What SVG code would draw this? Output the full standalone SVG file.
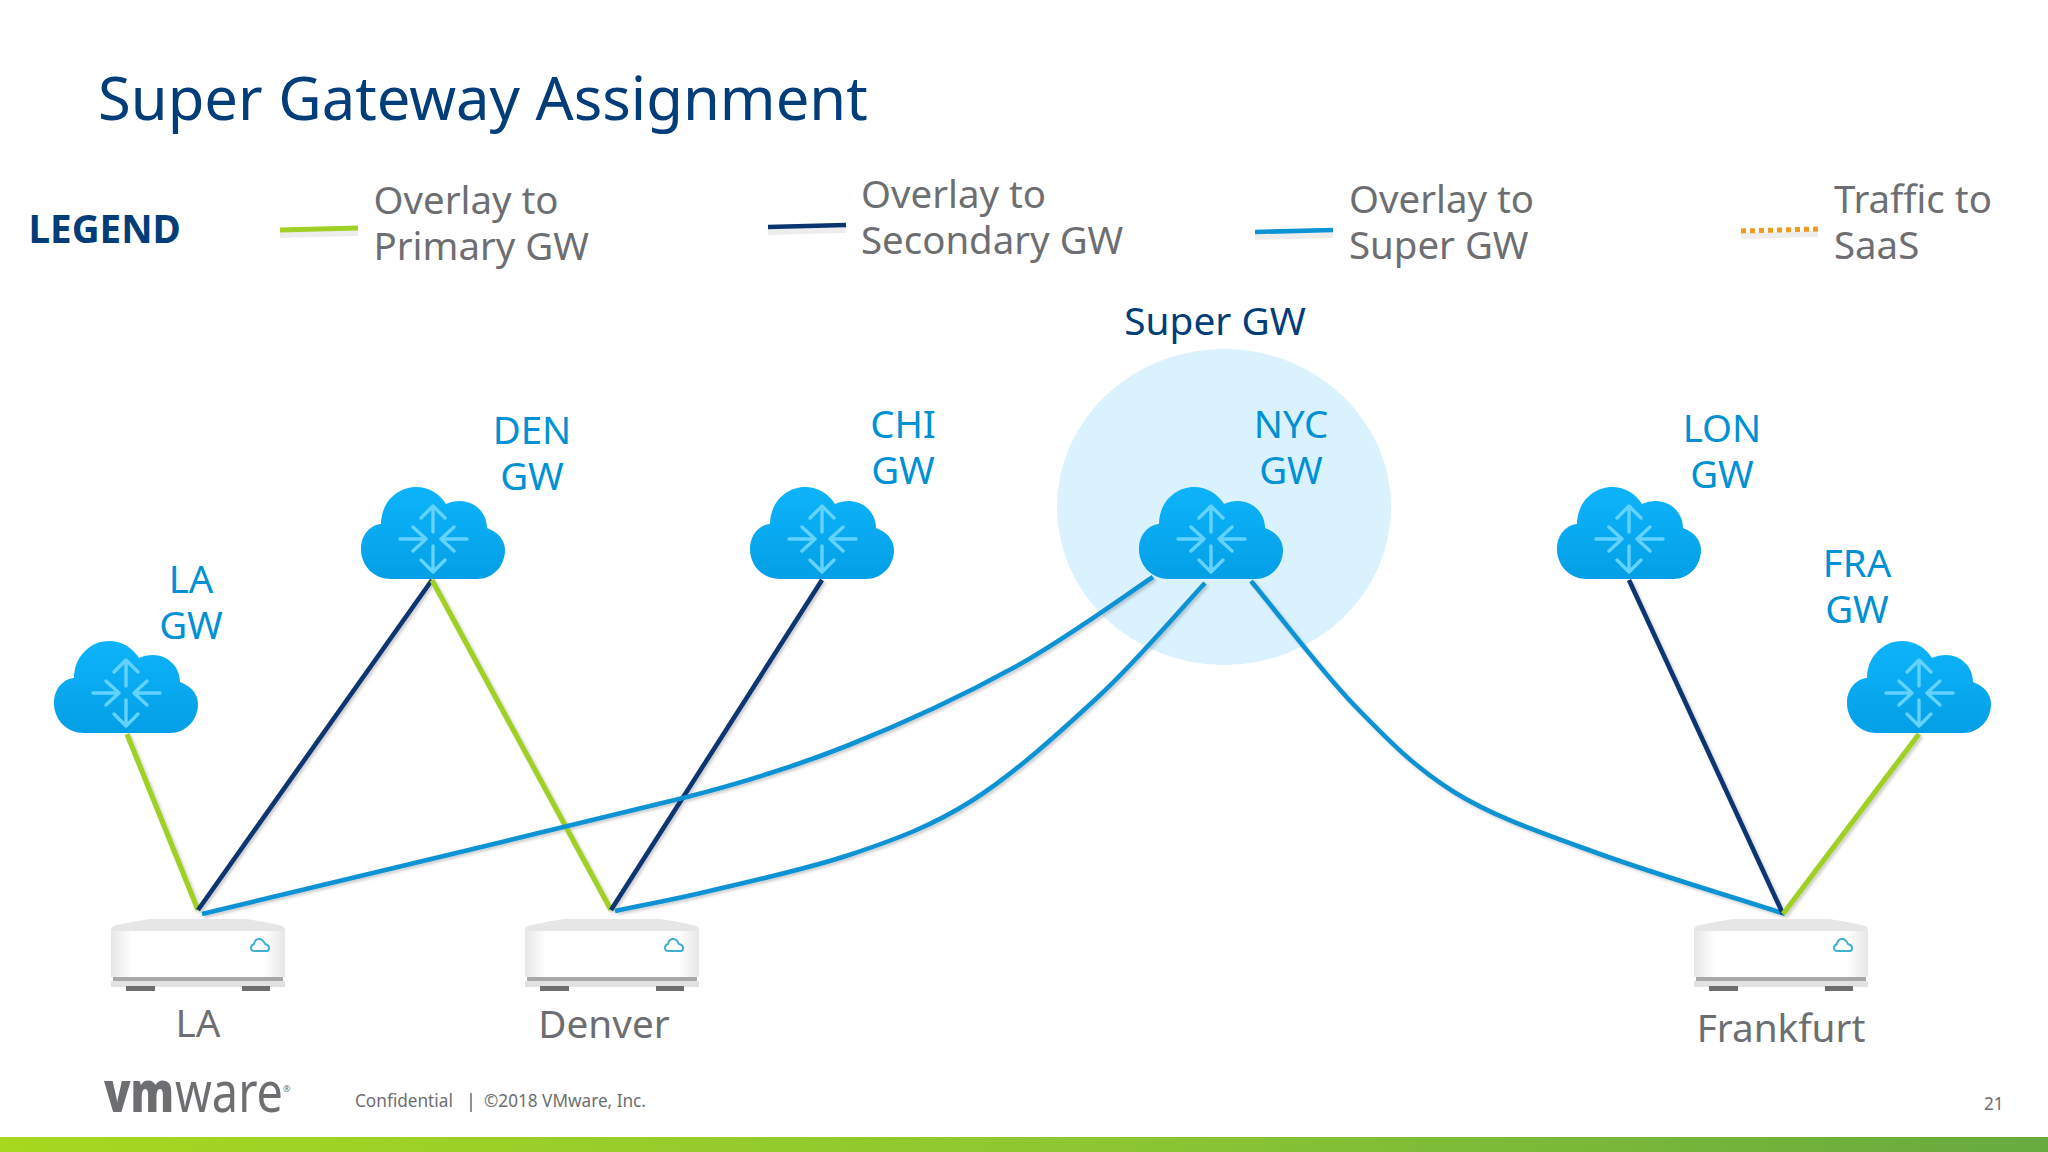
<svg xmlns="http://www.w3.org/2000/svg" width="2048" height="1152" viewBox="0 0 2048 1152">
<style>
text{font-family:"Noto Sans","Open Sans","Liberation Sans",sans-serif}
.t{font-size:38.4px;fill:#6d6e71}
.g{font-size:38.4px;fill:#0091d5;text-anchor:middle}
.n{font-size:38.7px;fill:#6d6e71;text-anchor:middle}
.c{fill:none;stroke-width:4.6px}
.s{fill:none;stroke:#000;stroke-opacity:.07;stroke-width:6px}
.green{stroke:#a0d026;stroke-width:5.2px}.navy{stroke:#0a3470}.blue{stroke:#0b93d3}
.arr{fill:none;stroke:#62d2ff;stroke-width:3.4;stroke-linecap:round;stroke-linejoin:round}
.foot{font-size:17.2px;fill:#6d6e71}
</style>
<defs>
<filter id="sh" x="-5%" y="-5%" width="110%" height="110%"><feDropShadow dx="2" dy="2" stdDeviation="1.5" flood-color="#000" flood-opacity=".2"/></filter>
<linearGradient id="cg" x1="0" y1="0" x2="0" y2="1"><stop offset="0" stop-color="#0db4fb"/><stop offset="1" stop-color="#049fe6"/></linearGradient>
<linearGradient id="bar"><stop offset="0" stop-color="#a6d81f"/><stop offset="0.54" stop-color="#8cc632"/><stop offset="1" stop-color="#67aa3f"/></linearGradient>
<linearGradient id="rb" x1="0" y1="0" x2="1" y2="0"><stop offset="0" stop-color="#e6e6e6"/><stop offset="0.12" stop-color="#fff"/><stop offset="0.88" stop-color="#fff"/><stop offset="1" stop-color="#e6e6e6"/></linearGradient>
<symbol id="cloud" viewBox="0 0 144 92" width="144" height="92" overflow="visible">
<path fill="url(#cg)" d="M30 92C13 92 0 79 0 62C0 48 9 38 20 37C20 16 36 0 55 0C68 0 79 7 85 17C89 15 94 14 99 14C114 14 126 26 126 41C137 45 144 53 144 63C144 79 132 92 116 92Z"/>
<g class="arr"><path d="M72 45V19M60 31L72 19L84 31M72 59V85M60 73L72 85L84 73M39 52H65M52 40L65 52L52 64M106 52H80M93 40L80 52L93 64"/></g>
</symbol>
<symbol id="router" viewBox="0 0 174 72" width="174" height="72" overflow="visible">
<path fill="#e6e6e6" d="M0 14V11Q0 7 6 6Q25 2 39 0H135Q150 2 168 6Q174 7 174 11V14Z"/>
<path fill="url(#rb)" d="M0 12H174V58H0Z"/>
<path fill="#a8a8a8" d="M2 58H172V62H2Z"/>
<path fill="#e2e2e2" d="M0 62H174V68H0Z"/>
<path fill="#6e6e6e" d="M15 67H44V72H15ZM131 67H159V72H131Z"/>
<path fill="none" stroke="#3fb0cf" stroke-width="2" d="M144 32H156Q158 32 158 29Q158 26 154 25Q152 20 148 20Q144 20 143 25Q140 26 140 29Q140 32 144 32Z"/>
</symbol>
</defs>
<rect width="2048" height="1152" fill="#fff"/>
<g id="bg"><ellipse cx="1224" cy="507" rx="167" ry="158" fill="#d9f2fe"/></g>
<text x="98" y="120" font-size="59.7" fill="#003d79">Super Gateway Assignment</text>
<g id="legend">
<text x="28.5" y="243" font-size="38.6" font-weight="700" fill="#003d79">LEGEND</text>
<path class="s" d="M280 235L358 233"/><path class="c green" d="M280 230L358 228"/>
<text class="t" x="373.5" y="214">Overlay to</text><text class="t" x="373.5" y="260">Primary GW</text>
<path class="s" d="M768 232L846 230"/><path class="c navy" d="M768 227L846 225"/>
<text class="t" x="861" y="208">Overlay to</text><text class="t" x="861" y="254">Secondary GW</text>
<path class="s" d="M1255 237L1333 235"/><path class="c blue" d="M1255 232L1333 230"/>
<text class="t" x="1349" y="213">Overlay to</text><text class="t" x="1349" y="259">Super GW</text>
<path class="s" d="M1741 236L1818 234"/><path d="M1741 231L1818 229" fill="none" stroke="#f09a20" stroke-width="5" stroke-dasharray="5 4"/>
<text class="t" x="1834" y="213">Traffic to</text><text class="t" x="1834" y="259">SaaS</text>
</g>
<g id="connectors" filter="url(#sh)">
<path class="c green" d="M127 734L198 910"/>
<path class="c navy" d="M432 580L198 910"/>
<path class="c green" d="M432 580L611 910"/>
<path class="c navy" d="M822 580L611 910"/>
<path class="c blue" d="M1153 577C1130 592 1066 639 1015 667C964 695 904 723 849 745C794 767 738 784 683 798C583 822 302 891 202 914"/>
<path class="c blue" d="M1205 583C1187 602 1137 661 1098 697C1059 733 1014 774 973 800C932 826 897 839 849 855C801 871 722 888 683 897C660 902 637 906 615 911"/>
<path class="c blue" d="M1251 581C1285 622 1320 670 1354 705C1388 740 1414 767 1454 792C1494 817 1542 833 1597 853C1652 873 1723 894 1785 914"/>
<path class="c navy" d="M1629 580L1783 914"/>
<path class="c green" d="M1919 734L1783 914"/>
</g>
<g id="la-gw"><use href="#cloud" x="54" y="641"/><text class="g" x="191" y="593">LA</text><text class="g" x="191" y="639">GW</text></g>
<g id="den-gw"><use href="#cloud" x="361" y="487"/><text class="g" x="532" y="444">DEN</text><text class="g" x="532" y="490">GW</text></g>
<g id="chi-gw"><use href="#cloud" x="750" y="487"/><text class="g" x="903" y="438">CHI</text><text class="g" x="903" y="484">GW</text></g>
<g id="nyc-gw"><use href="#cloud" x="1139" y="487"/><text class="g" x="1291" y="438">NYC</text><text class="g" x="1291" y="484">GW</text><text x="1215" y="335" font-size="38.8" fill="#003d79" text-anchor="middle">Super GW</text></g>
<g id="lon-gw"><use href="#cloud" x="1557" y="487"/><text class="g" x="1722" y="442">LON</text><text class="g" x="1722" y="488">GW</text></g>
<g id="fra-gw"><use href="#cloud" x="1847" y="641"/><text class="g" x="1857" y="577">FRA</text><text class="g" x="1857" y="623">GW</text></g>
<g id="la"><use href="#router" x="111" y="919"/><text class="n" x="198" y="1037">LA</text></g>
<g id="denver"><use href="#router" x="525" y="919"/><text class="n" x="604" y="1038">Denver</text></g>
<g id="frankfurt"><use href="#router" x="1694" y="919"/><text class="n" x="1781" y="1042">Frankfurt</text></g>
<g id="footer">
<text x="104" y="1112" font-size="57" fill="#6d6e71" font-family="Lato" font-weight="900" textLength="70" lengthAdjust="spacingAndGlyphs">vm</text>
<text x="175" y="1112" font-size="57" fill="#6d6e71" font-family="Lato" font-weight="400" textLength="108" lengthAdjust="spacingAndGlyphs">ware</text>
<text x="283" y="1092" font-size="9" fill="#6d6e71">®</text>
<text class="foot" x="355" y="1107">Confidential</text>
<path d="M471 1093V1112" stroke="#6d6e71" stroke-width="1.5"/>
<text class="foot" x="484" y="1107">©2018 VMware, Inc.</text>
<text class="foot" x="1984" y="1110">21</text>
</g>
<rect y="1137" width="2048" height="15" fill="url(#bar)"/>
</svg>
